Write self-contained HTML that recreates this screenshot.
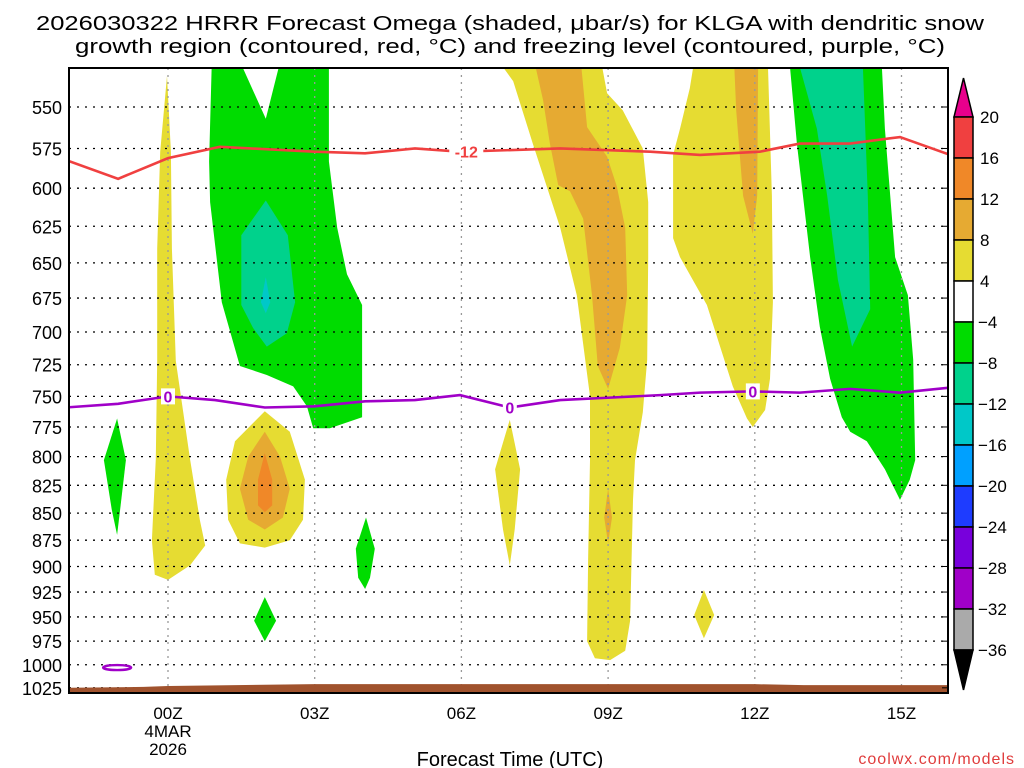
<!DOCTYPE html>
<html><head><meta charset="utf-8"><style>
html,body{margin:0;padding:0;background:#fff;}
svg{display:block;font-family:"Liberation Sans","DejaVu Sans",sans-serif;}
</style></head><body>
<svg id="chart" width="1024" height="768" viewBox="0 0 1024 768" xmlns="http://www.w3.org/2000/svg">
<defs><clipPath id="plotclip"><rect x="69" y="68" width="879" height="625"/></clipPath></defs>
<g font-size="20" fill="#000" text-anchor="middle">
<text x="510" y="30" textLength="948" lengthAdjust="spacingAndGlyphs">2026030322 HRRR Forecast Omega (shaded, μbar/s) for KLGA with dendritic snow</text>
<text x="510" y="53" textLength="870" lengthAdjust="spacingAndGlyphs">growth region (contoured, red, °C) and freezing level (contoured, purple, °C)</text>
</g>
<g id="fills" clip-path="url(#plotclip)"></g>
<g id="grid"></g>
<g id="lines" clip-path="url(#plotclip)"></g>
<rect x="69" y="68" width="879" height="625" fill="none" stroke="#000" stroke-width="2"/>
<g id="yaxis" font-size="18" text-anchor="end"></g>
<g id="xaxis" font-size="17" text-anchor="middle"></g>
<text x="510" y="766" font-size="20" text-anchor="middle">Forecast Time (UTC)</text>
<text x="1015" y="764" font-size="16" fill="#e03c3c" text-anchor="end" letter-spacing="1">coolwx.com/models</text>
<g id="cbar" font-size="17"></g>
</svg>
<script>
const pressureTicks=[550,575,600,625,650,675,700,725,750,775,800,825,850,875,900,925,950,975,1000,1025];
const hourTicks=[0,3,6,9,12,15];
const hourLabels=["00Z","03Z","06Z","09Z","12Z","15Z"];
const cbarLevels=[20,16,12,8,4,-4,-8,-12,-16,-20,-24,-28,-32,-36];
const cbarColors=["#f04040","#f08828","#e6aa32","#e6dc32","#ffffff","#00dc00","#00d28c","#00c8c8","#00a0ff","#1e3cff","#7800dc","#a000c8","#aaaaaa"];
const yellowA=[[-0.02,532],[0.06,577],[0.08,640],[0.16,722],[0.45,802],[0.65,856],[0.76,880],[0.45,899],[0,913],[-0.27,908],[-0.33,875],[-0.25,802],[-0.22,722],[-0.22,640],[-0.16,577]];
const yellowB=[[1.98,762],[2.49,779],[2.8,820],[2.76,856],[2.49,875],[1.98,882],[1.47,878],[1.23,856],[1.19,820],[1.37,787]];
const orangeB=[[1.98,779],[2.29,800],[2.49,828],[2.35,854],[1.98,865],[1.64,856],[1.47,828],[1.64,800]];
const redB=[[1.98,797],[2.13,820],[2.13,843],[1.98,849],[1.84,843],[1.84,820]];
const yellowC=[[6.99,769],[7.2,811],[7.09,865],[6.99,899],[6.85,865],[6.69,811]];
const yellowD=[[10.96,923],[11.17,948],[10.96,972],[10.76,948]];
const yellowE=[[6.85,520],[6.85,527],[7.06,535],[7.46,572],[8.02,626],[8.36,673],[8.63,750],[8.63,803],[8.59,894],[8.57,975],[8.73,993],[9.04,995],[9.35,985],[9.45,954],[9.51,838],[9.55,803],[9.71,763],[9.8,721],[9.82,646],[9.82,609],[9.71,575],[9.3,552],[8.98,542],[8.88,527],[8.88,520]];
const orangeE=[[7.46,520],[8.43,520],[8.57,562],[8.98,580],[9.18,599],[9.35,626],[9.39,673],[9.24,712],[9.0,744],[8.79,726],[8.67,673],[8.49,620],[8.22,602],[7.98,598],[7.81,572],[7.67,546]];
const orangeE2=[[9.0,828],[9.08,854],[9.0,878],[8.92,854]];
const yellowF=[[10.74,520],[10.74,527],[10.67,539],[10.47,563],[10.33,579],[10.33,633],[10.47,646],[11.02,680],[11.29,711],[11.55,742],[11.84,768],[11.96,775],[12.21,761],[12.31,736],[12.37,678],[12.35,605],[12.27,527],[12.27,520]];
const orangeF=[[11.57,520],[12.07,520],[12.05,605],[11.96,630],[11.76,605],[11.62,552]];
const greenA=[[0.9,520],[1.41,520],[2.0,557],[2.33,520],[3.29,520],[3.29,583],[3.46,626],[3.66,658],[3.97,680],[3.97,767],[3.31,776],[2.97,776],[2.84,758],[2.56,742],[2.02,733],[1.47,726],[1.1,678],[0.86,609],[0.84,583]];
const tealA=[[2.0,608],[2.45,631],[2.6,678],[2.43,701],[2.02,711],[1.74,697],[1.5,680],[1.5,631]];
const cyanA=[[2.0,660],[2.09,678],[2.0,686],[1.9,678]];
const greenB=[[-1.04,768],[-0.86,803],[-0.98,847],[-1.04,870],[-1.15,847],[-1.31,803]];
const greenC=[[4.05,854],[4.23,883],[4.13,911],[4.03,922],[3.89,911],[3.84,883]];
const greenD=[[1.98,930],[2.21,954],[1.98,975],[1.76,954]];
const greenE=[[12.72,520],[12.72,527],[12.86,572],[13.13,646],[13.33,696],[13.54,736],[13.78,767],[13.95,779],[14.29,787],[14.66,811],[14.97,838],[15.17,820],[15.28,803],[15.24,721],[15.13,673],[14.87,646],[14.66,563],[14.6,527],[14.6,520]];
const tealE=[[12.92,520],[12.92,527],[13.27,563],[13.48,605],[13.7,662],[13.99,711],[14.36,683],[14.31,605],[14.21,527],[14.21,520]];
const isoM12Hours=[-2.1,-1.02,0,1.06,3,4.03,5.05,5.97,8.02,9.86,10.88,12.1,12.92,13.95,14.97,16];
const isoM12Press=[582,594,581,574,577,578,575,577,575,577,579,577,572,572,568,579];
const iso0Hours=[-2.1,-1.02,0,0.96,1.98,3,4.03,5.05,5.97,6.99,8.02,9.04,10.06,10.88,11.96,12.92,13.95,14.97,16];
const iso0Press=[759,756,750,753,759,758,754,753,749,759,753,751,749,747,746,747,744,747,743];
const surfHours=[-2.1,-0.5,0,3,6,9,12,13,15,16];
const surfPress=[1025,1024,1023,1021,1021,1021,1021,1022,1022,1022];
const NS="http://www.w3.org/2000/svg";
const xs=h=>168+48.9*h;
const ys=p=>107+933*Math.log(p/550);
function mk(tag,attrs,parent){const e=document.createElementNS(NS,tag);for(const k in attrs)e.setAttribute(k,attrs[k]);parent.appendChild(e);return e;}
const fills=document.getElementById('fills');
function poly(arr,color,name){const e=mk('polygon',{points:arr.map(d=>xs(d[0]).toFixed(1)+','+ys(d[1]).toFixed(1)).join(' '),fill:color},fills);

}
poly(yellowA,"#e6dc32","omega-4-8-region-00z");
poly(yellowB,"#e6dc32","omega-4-8-region-02z");
poly(orangeB,"#e6aa32","omega-8-12-region-02z");
poly(redB,"#f08828","omega-12-16-region-02z");
poly(yellowC,"#e6dc32","omega-4-8-region-07z");
poly(yellowD,"#e6dc32","omega-4-8-region-11z");
poly(yellowE,"#e6dc32","omega-4-8-region-09z");
poly(orangeE,"#e6aa32","omega-8-12-region-09z");
poly(orangeE2,"#e6aa32","omega-8-12-region-09z-low");
poly(yellowF,"#e6dc32","omega-4-8-region-12z");
poly(orangeF,"#e6aa32","omega-8-12-region-12z");
poly(greenA,"#00dc00","omega-neg4-region-02z");
poly(tealA,"#00d28c","omega-neg8-region-02z");
poly(cyanA,"#00c8c8","omega-neg12-region-02z");
poly(greenB,"#00dc00","omega-neg4-region-23z");
poly(greenC,"#00dc00","omega-neg4-region-04z");
poly(greenD,"#00dc00","omega-neg4-region-02z-low");
poly(greenE,"#00dc00","omega-neg4-region-14z");
poly(tealE,"#00d28c","omega-neg8-region-14z");
const grid=document.getElementById('grid');
pressureTicks.forEach(p=>{const l=mk('line',{x1:69,x2:948,y1:ys(p),y2:ys(p),stroke:'#000','stroke-width':1.3,'stroke-dasharray':'2,6'},grid);

});
hourTicks.forEach(h=>{const l=mk('line',{x1:xs(h),x2:xs(h),y1:68,y2:693,stroke:'#999','stroke-width':1.3,'stroke-dasharray':'2,5'},grid);

});
const lines=document.getElementById('lines');
const surf=mk('polygon',{points:surfHours.map((h,i)=>xs(h)+','+ys(surfPress[i])).join(' ')+' '+xs(16)+',700 '+xs(-2.1)+',700',fill:'#a0522d'},lines);


const r=mk('polyline',{points:isoM12Hours.map((h,i)=>xs(h)+','+ys(isoM12Press[i])).join(' '),fill:'none',stroke:'#f04040','stroke-width':2.6},lines);


const pu=mk('polyline',{points:iso0Hours.map((h,i)=>xs(h)+','+ys(iso0Press[i])).join(' '),fill:'none',stroke:'#a000c8','stroke-width':2.6},lines);


const el=mk('ellipse',{cx:xs(-1.04),cy:ys(1003),rx:14,ry:2.5,fill:'none',stroke:'#a000c8','stroke-width':2.4},lines);


function lab(txt,h,p,color,name){mk('rect',{x:xs(h)-(txt.length*5+2),y:ys(p)-8,width:txt.length*10+4,height:16,fill:'#fff'},lines);
const t=mk('text',{x:xs(h),y:ys(p)+6,'font-size':16,'font-weight':'bold',fill:color,'text-anchor':'middle'},lines);t.textContent=txt;

}
lab('-12',6.1,577,'#f04040','isotherm-label-minus12');
lab('0',0,750,'#a000c8','freezing-label-00z');
lab('0',6.99,759,'#a000c8','freezing-label-07z');
lab('0',11.96,746,'#a000c8','freezing-label-12z');
const ya=document.getElementById('yaxis');
pressureTicks.forEach(p=>{const t=mk('text',{x:62,y:ys(p)+7},ya);t.textContent=p;


const k=mk('line',{x1:942,x2:948,y1:ys(p),y2:ys(p),stroke:'#000','stroke-width':1},ya);

});
const xa=document.getElementById('xaxis');
hourTicks.forEach((h,i)=>{const t=mk('text',{x:xs(h),y:719},xa);t.textContent=hourLabels[i];

});
const d1=mk('text',{x:xs(0),y:737},xa);d1.textContent='4MAR';


const d2=mk('text',{x:xs(0),y:755},xa);d2.textContent='2026';


const cb=document.getElementById('cbar');
const cy=i=>117+41*i;
const tri=mk('polygon',{points:'954,'+cy(0)+' 973,'+cy(0)+' 963.5,78',fill:'#e8008c',stroke:'#000','stroke-width':1.5},cb);


cbarColors.forEach((c,i)=>{const s=mk('rect',{x:954,y:cy(i),width:19,height:41,fill:c,stroke:'#000','stroke-width':1.5},cb);

});
const tri2=mk('polygon',{points:'954,'+cy(13)+' 973,'+cy(13)+' 963.5,690',fill:'#000',stroke:'#000','stroke-width':1.5},cb);


cbarLevels.forEach((v,i)=>{const t=mk('text',{x:v<0?978:980,y:cy(i)+6},cb);t.textContent=v<0?'\u2212'+(-v):String(v);

});
</script>
</body></html>
